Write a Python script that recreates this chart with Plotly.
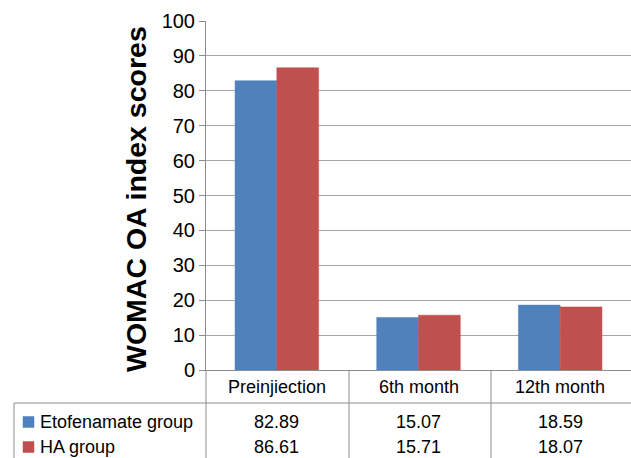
import plotly.graph_objects as go

categories = ["Preinjiection", "6th month", "12th month"]
series_names = ["Etofenamate group", "HA group"]
etofenamate = [82.89, 15.07, 18.59]
ha = [86.61, 15.71, 18.07]
series_values = [etofenamate, ha]
colors = ["#4F81BD", "#C0504D"]
y_ticks = [0, 10, 20, 30, 40, 50, 60, 70, 80, 90, 100]
y_title = "WOMAC OA index scores"

W, H = 631, 458
L, R, T, B = 206, 631, 21, 370
FONT = "Liberation Sans, Arial, sans-serif"
LINE = "#8C8C8C"
GRID = "#A6A6A6"


def px(x):
    return (x - L) / (R - L)


def py(y):
    return (B - y) / (B - T)


fig = go.Figure()
for name, vals, col in zip(series_names, series_values, colors):
    fig.add_trace(go.Bar(
        x=categories, y=vals, name=name,
        marker=dict(color=col, line=dict(color=col, width=0.5)),
    ))

shapes = []
# table lines
shapes.append(dict(type="line", xref="paper", yref="paper", x0=px(14), x1=px(633), y0=py(403), y1=py(403),
                   line=dict(color=LINE, width=1)))
shapes.append(dict(type="line", xref="paper", yref="paper", x0=px(14), x1=px(14), y0=py(403), y1=py(460),
                   line=dict(color=LINE, width=1)))
for xb in [206, 349, 491]:
    shapes.append(dict(type="line", xref="paper", yref="paper", x0=px(xb), x1=px(xb), y0=py(370), y1=py(460),
                       line=dict(color=LINE, width=1)))

annotations = []
# y-axis title
annotations.append(dict(text="<b>" + y_title + "</b>", xref="paper", yref="paper", x=px(136), y=py(199),
                        showarrow=False, textangle=-90, xanchor="center", yanchor="middle",
                        font=dict(family=FONT, size=28.5, color="#000000")))
# category labels
for c in categories:
    annotations.append(dict(text=c, xref="x", yref="paper", x=c, y=py(387), showarrow=False,
                            xanchor="center", yanchor="middle",
                            font=dict(family=FONT, size=18, color="#000000")))
# table rows
row_y = [422, 447]
for name, vals, col, ry in zip(series_names, series_values, colors, row_y):
    shapes.append(dict(type="rect", xref="paper", yref="paper", x0=px(23), x1=px(34),
                       y0=py(ry - 5.5), y1=py(ry + 5.5), fillcolor=col, line=dict(color=col, width=0.5)))
    annotations.append(dict(text=name, xref="paper", yref="paper", x=px(38), y=py(ry), showarrow=False,
                            xanchor="left", yanchor="middle",
                            font=dict(family=FONT, size=18, color="#000000")))
    for c, v in zip(categories, vals):
        annotations.append(dict(text=f"{v:.2f}", xref="x", yref="paper", x=c, y=py(ry), showarrow=False,
                                xanchor="center", yanchor="middle",
                                font=dict(family=FONT, size=18, color="#000000")))

fig.update_layout(
    width=W, height=H,
    margin=dict(l=L, r=W - R, t=T, b=H - B, pad=0),
    paper_bgcolor="white", plot_bgcolor="white",
    barmode="group", bargap=0.41, bargroupgap=0,
    showlegend=False,
    shapes=shapes, annotations=annotations,
    font=dict(family=FONT, color="#000000"),
    xaxis=dict(showticklabels=False, showline=True, linecolor=LINE, linewidth=1,
               showgrid=False, ticks="", zeroline=False, range=[-0.5, 2.5], fixedrange=True),
    yaxis=dict(range=[0, 100], tickvals=y_ticks, showline=True, linecolor=LINE, linewidth=1,
               showgrid=True, gridcolor=GRID, gridwidth=1, ticks="outside", ticklen=6,
               tickcolor=LINE, zeroline=False,
               tickfont=dict(family=FONT, size=20, color="#000000"), fixedrange=True),
)

fig.write_html("out.html", config={"displayModeBar": False},
               post_script="document.body.style.margin='0';document.body.style.overflow='hidden';")
